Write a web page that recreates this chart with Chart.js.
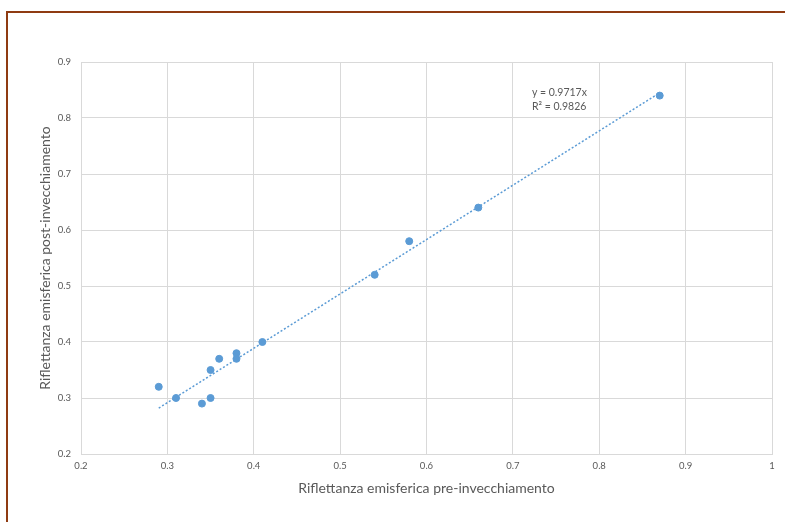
<!DOCTYPE html>
<html>
<head>
<meta charset="utf-8">
<script src="https://cdn.jsdelivr.net/npm/chart.js@4/dist/chart.umd.min.js"></script>
<style>
    html, body { margin: 0; padding: 0; background: #fff; }
    #wrap { position: relative; width: 785px; height: 522px; overflow: hidden; }
    #frame {
        position: absolute; left: 6px; top: 11px; width: 800px; height: 520px;
        border-left: 2px solid #8f3b12; border-top: 2px solid #8f3b12;
        pointer-events: none;
    }
    canvas { position: absolute; left: 0; top: 0; }
</style>
</head>
<body>
<div id="wrap">
    <canvas id="chart" width="785" height="522"></canvas>
    <div id="frame"></div>
</div>
<script>
// reflectance before ageing (x) and after ageing (y)
const preAgeing = [0.87, 0.66, 0.58, 0.54, 0.41, 0.38, 0.38, 0.36, 0.35, 0.35, 0.34, 0.31, 0.29];
const postAgeing = [0.84, 0.64, 0.58, 0.52, 0.40, 0.38, 0.37, 0.37, 0.35, 0.30, 0.29, 0.30, 0.32];

// linear trendline through the origin, as drawn in the picture
const trendX = [0.29, 0.87];
const trendY = [0.282, 0.845];
const trendLabel = ['y = 0.9717x', 'R² = 0.9826'];

const xTicks = ['0.2', '0.3', '0.4', '0.5', '0.6', '0.7', '0.8', '0.9', '1'];
const yTicks = ['0.2', '0.3', '0.4', '0.5', '0.6', '0.7', '0.8', '0.9'];

const TEXT = '#595959';
const GRID = '#d9d9d9';
const BLUE = '#5b9bd5';
const FONT = 'Lato, "Open Sans", sans-serif';

const toPoints = (xs, ys) => xs.map((x, i) => ({ x, y: ys[i] }));

const equationLabel = {
    id: 'equationLabel',
    afterDatasetsDraw(chart) {
        const { ctx, scales } = chart;
        const x = scales.x.getPixelForValue(0.722);
        const y = scales.y.getPixelForValue(0.845);
        ctx.save();
        ctx.fillStyle = TEXT;
        ctx.font = `10.5px ${FONT}`;
        ctx.textBaseline = 'middle';
        ctx.textAlign = 'left';
        trendLabel.forEach((line, i) => ctx.fillText(line, x, y + i * 14));
        ctx.restore();
    },
};

new Chart(document.getElementById('chart'), {
    type: 'scatter',
    data: {
        datasets: [
            {
                label: 'Campioni',
                data: toPoints(preAgeing, postAgeing),
                backgroundColor: BLUE,
                borderColor: BLUE,
                pointRadius: 3.5,
                order: 1,
            },
            {
                label: 'Tendenza',
                type: 'line',
                data: toPoints(trendX, trendY),
                borderColor: BLUE,
                borderWidth: 1.5,
                borderDash: [2, 2],
                pointRadius: 0,
                fill: false,
                order: 2,
            },
        ],
    },
    options: {
        responsive: false,
        animation: false,
        layout: { padding: { top: 62, right: 13, bottom: 0, left: 0 } },
        plugins: {
            legend: { display: false },
            tooltip: { enabled: false },
        },
        scales: {
            x: {
                type: 'linear',
                min: 0.2,
                max: 1,
                afterFit(scale) { scale.height = 68; },
                ticks: {
                    stepSize: 0.1,
                    color: TEXT,
                    padding: 6,
                    font: { family: FONT, size: 9.5 },
                    callback(value, index) { return xTicks[index]; },
                },
                grid: { color: GRID, drawTicks: false },
                border: { color: GRID },
                title: {
                    display: true,
                    text: 'Riflettanza emisferica pre-invecchiamento',
                    color: TEXT,
                    font: { family: FONT, size: 14 },
                    padding: { top: 0, bottom: 25 },
                },
            },
            y: {
                type: 'linear',
                min: 0.2,
                max: 0.9,
                afterFit(scale) { scale.width = 81; },
                ticks: {
                    stepSize: 0.1,
                    color: TEXT,
                    padding: 10,
                    font: { family: FONT, size: 9.5 },
                    callback(value, index) { return yTicks[index]; },
                },
                grid: { color: GRID, drawTicks: false },
                border: { color: GRID },
                title: {
                    display: true,
                    text: 'Riflettanza emisferica post-invecchiamento',
                    color: TEXT,
                    font: { family: FONT, size: 14 },
                    padding: { top: 37, bottom: 0 },
                },
            },
        },
    },
    plugins: [equationLabel],
});
</script>
</body>
</html>
